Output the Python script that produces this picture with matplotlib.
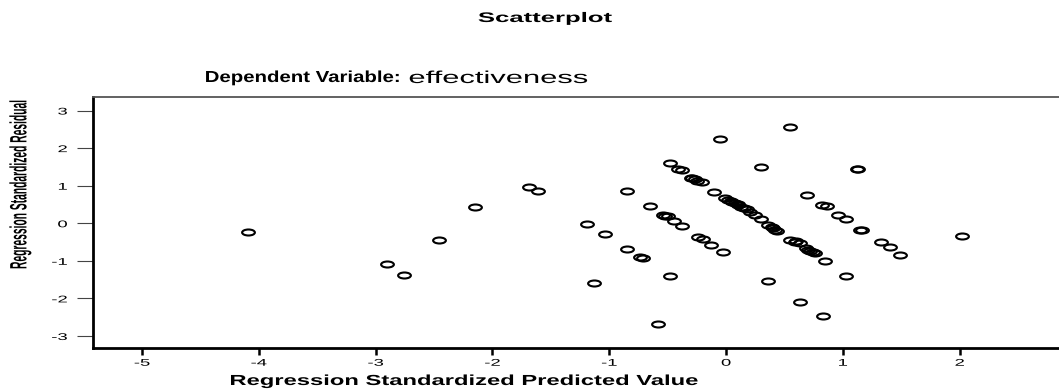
import numpy as np
import matplotlib
matplotlib.use('Agg')
import matplotlib.pyplot as plt
import matplotlib.patheffects as pe
from matplotlib.path import Path
from matplotlib.transforms import Affine2D

plt.rcParams['font.family'] = ['Liberation Sans', 'DejaVu Sans']

# standardized predicted values (x) and standardized residuals (y)
pred = [-4.09, -2.90, -2.76, -2.46, -2.15, -1.69, -1.61, -1.19, -1.04, -1.13,
        -0.85, -0.85, -0.74, -0.71, -0.65, -0.58, -0.48,
        -0.48, -0.41, -0.38, -0.30, -0.29, -0.27, -0.25, -0.21,
        -0.54, -0.52, -0.50, -0.45, -0.38,
        -0.24, -0.20, -0.13, -0.03,
        -0.10, -0.01, 0.02, 0.04, 0.05, 0.08, 0.10, 0.105, 0.13, 0.15, 0.18,
        0.205, 0.25, 0.30, 0.36, 0.39, 0.40, 0.42, 0.44,
        0.55, 0.59, 0.60, 0.63, 0.68, 0.70, 0.72, 0.74, 0.76, 0.85,
        -0.05, 0.55, 0.30, 1.12, 1.13, 0.69, 0.82, 0.86, 0.96, 1.03, 1.15, 1.16,
        1.33, 1.40, 1.49, 2.02, 1.03, 0.36, 0.63, 0.83]
resid = [-0.22, -1.08, -1.37, -0.45, 0.43, 0.97, 0.86, -0.01, -0.29, -1.60,
         0.86, -0.68, -0.90, -0.93, 0.47, -2.68, -1.40,
         1.60, 1.45, 1.42, 1.21, 1.20, 1.17, 1.13, 1.09,
         0.21, 0.20, 0.18, 0.07, -0.07,
         -0.37, -0.43, -0.57, -0.77,
         0.83, 0.665, 0.62, 0.59, 0.575, 0.53, 0.50, 0.49, 0.44, 0.41, 0.37,
         0.31, 0.22, 0.10, -0.045, -0.11, -0.12, -0.17, -0.20,
         -0.445, -0.49, -0.47, -0.53, -0.65, -0.70, -0.74, -0.77, -0.80, -1.01,
         2.25, 2.57, 1.51, 1.45, 1.44, 0.76, 0.49, 0.46, 0.22, 0.12, -0.17, -0.19,
         -0.51, -0.62, -0.84, -0.33, -1.40, -1.54, -2.09, -2.46]

xticks = [-5, -4, -3, -2, -1, 0, 1, 2]
yticks = [-3, -2, -1, 0, 1, 2, 3]


class Widen(pe.AbstractPathEffect):
    """Stretch glyph outlines horizontally around an anchor."""

    def __init__(self, sx=1.9, anchor='center'):
        super().__init__()
        self.sx = sx
        self.anchor = anchor

    def draw_path(self, renderer, gc, tpath, affine, rgbFace=None):
        if len(tpath.vertices) == 0:
            return
        ext = tpath.get_extents(affine)
        if self.anchor == 'left':
            cx = ext.x0
        elif self.anchor == 'right':
            cx = ext.x1
        else:
            cx = 0.5 * (ext.x0 + ext.x1)
        t = affine + Affine2D().translate(-cx, 0).scale(self.sx, 1).translate(cx, 0)
        renderer.draw_path(gc, tpath, t, rgbFace)


W, H = 1059, 389
fig = plt.figure(figsize=(W / 100, H / 100), dpi=100)
ax = fig.add_axes([93 / W, 1 - 348 / H, 1 - 93 / W, (348 - 97) / H])

# flattened open circle
oval = Affine2D().scale(1, 0.47).transform_path(Path.unit_circle())
ax.plot(pred, resid, linestyle='none', marker=oval, markersize=9.2,
        markerfacecolor='none', markeredgecolor='black', markeredgewidth=1.5)

ax.set_xlim(-5.42, 2.85)
ax.set_ylim(-3.32, 3.36)
ax.set_xticks(xticks)
ax.set_yticks(yticks)
ax.set_xticklabels([str(v) for v in xticks])
ax.set_yticklabels([str(v) for v in yticks])

ax.spines['right'].set_visible(False)
ax.spines['top'].set_color('#555555')
ax.spines['top'].set_linewidth(1.3)
ax.spines['left'].set_linewidth(2.0)
ax.spines['bottom'].set_linewidth(2.0)

ax.tick_params(axis='y', direction='out', length=11.5, width=0.8,
               color='#444444', pad=7, labelsize=7)
ax.tick_params(axis='x', direction='out', length=5, width=1.8,
               color='black', pad=2, labelsize=7)
for lab in ax.get_xticklabels():
    lab.set_path_effects([Widen(1.9, 'center')])
for lab in ax.get_yticklabels():
    lab.set_path_effects([Widen(1.9, 'right')])

xl = ax.set_xlabel('Regression Standardized Predicted Value', fontsize=10.5,
                   fontweight='bold', va='center')
ax.xaxis.set_label_coords((465 - 93) / (W - 93), -(381 - 348) / (348 - 97))
xl.set_path_effects([Widen(1.63, 'center')])

yl = ax.set_ylabel('Regression Standardized Residual', fontsize=7.4,
                   fontweight='bold', va='center')
ax.yaxis.set_label_coords(-(93 - 20) / (W - 93), (348 - 184) / (348 - 97))
yl.set_path_effects([Widen(2.3, 'center')])

t = fig.text(545 / W, 1 - 18 / H, 'Scatterplot', fontsize=10,
             fontweight='bold', ha='center', va='center')
t.set_path_effects([Widen(1.85, 'center')])

# subtitle: bold label followed by the variable name in a larger plain face
sub_left, sub_mid, sub_right = 205, 402, 590
s1 = fig.text(sub_left / W, 1 - 82 / H, 'Dependent Variable:', fontsize=11.5,
              fontweight='bold', ha='left', va='baseline')
s2 = fig.text((sub_mid + 7) / W, 1 - 83 / H, 'effectiveness', fontsize=12.4,
              ha='left', va='baseline')
fig.canvas.draw()
rend = fig.canvas.get_renderer()
w1 = s1.get_window_extent(rend).width
w2 = s2.get_window_extent(rend).width
s1.set_path_effects([Widen((sub_mid - sub_left) / w1, 'left')])
s2.set_path_effects([Widen((sub_right - sub_mid - 7) / w2, 'left')])

fig.savefig('out.png', dpi=100)
